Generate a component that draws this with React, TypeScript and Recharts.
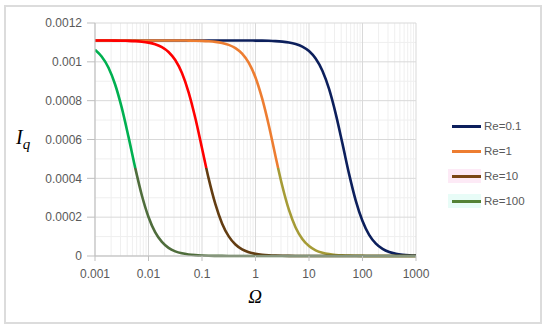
import { CartesianGrid, Line, LineChart, XAxis, YAxis } from "recharts";

// Ω sample points, eighth-decade steps
const omega = [
  0.001, 0.00133, 0.00178, 0.00237, 0.00316, 0.00422, 0.00562, 0.0075, 0.01, 0.0133, 0.0178, 0.0237, 0.0316,
  0.0422, 0.0562, 0.075, 0.1, 0.133, 0.178, 0.237, 0.316, 0.422, 0.562, 0.75, 1, 1.33, 1.78, 2.37, 3.16, 4.22,
  5.62, 7.5, 10, 13.3, 17.8, 23.7, 31.6, 42.2, 56.2, 75, 100, 133, 178, 237, 316, 422, 562, 750, 1000
];

// Iq
const re01 = [
  1.11e-3, 1.11e-3, 1.11e-3, 1.11e-3, 1.11e-3, 1.11e-3, 1.11e-3, 1.11e-3, 1.11e-3, 1.11e-3, 1.11e-3, 1.11e-3,
  1.11e-3, 1.11e-3, 1.11e-3, 1.11e-3, 1.11e-3, 1.11e-3, 1.11e-3, 1.11e-3, 1.11e-3, 1.11e-3, 1.11e-3, 1.11e-3,
  1.1094e-3, 1.109e-3, 1.1082e-3, 1.1068e-3, 1.1043e-3, 1.1e-3, 1.0922e-3, 1.0787e-3, 1.0555e-3, 1.0167e-3,
  0.9542e-3, 0.8602e-3, 0.732e-3, 0.5786e-3, 0.4216e-3, 0.2843e-3, 0.1801e-3, 0.109e-3, 0.064e-3, 0.037e-3,
  0.0211e-3, 0.012e-3, 0.0068e-3, 0.0038e-3, 0.0022e-3
];
const re1 = [
  1.11e-3, 1.11e-3, 1.11e-3, 1.11e-3, 1.11e-3, 1.11e-3, 1.11e-3, 1.11e-3, 1.11e-3, 1.11e-3, 1.11e-3, 1.11e-3,
  1.11e-3, 1.11e-3, 1.1093e-3, 1.1087e-3, 1.1077e-3, 1.1059e-3, 1.1028e-3, 1.0972e-3, 1.0875e-3, 1.0706e-3,
  1.0418e-3, 0.9943e-3, 0.9196e-3, 0.8113e-3, 0.6709e-3, 0.5129e-3, 0.3616e-3, 0.2371e-3, 0.1471e-3, 0.0878e-3,
  0.0512e-3, 0.0294e-3, 0.0167e-3, 0.0095e-3, 0.0053e-3, 0.003e-3, 0.0017e-3, 0.001e-3, 0.0005e-3, 0.0003e-3,
  0.0002e-3, 0.0001e-3, 0.00005e-3, 0, 0, 0, 0
];
const re10 = [
  1.11e-3, 1.1098e-3, 1.1096e-3, 1.1094e-3, 1.1089e-3, 1.108e-3, 1.1065e-3, 1.1038e-3, 1.099e-3, 1.0906e-3,
  1.076e-3, 1.0509e-3, 1.0091e-3, 0.9424e-3, 0.8433e-3, 0.7105e-3, 0.555e-3, 0.3996e-3, 0.2667e-3, 0.1676e-3,
  0.1009e-3, 0.0591e-3, 0.034e-3, 0.0194e-3, 0.011e-3, 0.0062e-3, 0.0035e-3, 0.002e-3, 0.0011e-3, 0.0006e-3,
  0.00035e-3, 0.0002e-3, 0.0001e-3, 0.00006e-3, 0.00003e-3, 0, 0, 0, 0, 0, 0, 0, 0, 0, 0, 0, 0, 0, 0
];
const re100 = [
  1.062e-3, 1.0273e-3, 0.971e-3, 0.8847e-3, 0.764e-3, 0.6148e-3, 0.4564e-3, 0.3129e-3, 0.2008e-3, 0.1226e-3,
  0.0725e-3, 0.0419e-3, 0.024e-3, 0.0136e-3, 0.0077e-3, 0.0043e-3, 0.0025e-3, 0.0014e-3, 0.0008e-3, 0.0004e-3,
  0.00025e-3, 0.00014e-3, 0.00008e-3, 0.00004e-3, 0.00002e-3, 0, 0, 0, 0, 0, 0, 0, 0, 0, 0, 0, 0, 0, 0, 0, 0, 0,
  0, 0, 0, 0, 0, 0, 0
];

const xTicks = [0.001, 0.01, 0.1, 1, 10, 100, 1000];
const yTicks = [0, 0.0002, 0.0004, 0.0006, 0.0008, 0.001, 0.0012];
const yMinor = [0.0001, 0.0003, 0.0005, 0.0007, 0.0009, 0.0011];
const xMinor = xTicks.slice(0, -1).flatMap((d) => [2, 3, 4, 5, 6, 7, 8, 9].map((m) => d * m));

// the lower part of three curves is drawn in a darker tone
const colourSplit = 0.000452;

const series = [
  { key: "re01", name: "Re=0.1", top: "#0c1f5c", bottom: "#0c1f5c", legend: "#0c1f5c" },
  { key: "re1", name: "Re=1", top: "#ed7d31", bottom: "#a59b36", legend: "#ed7d31" },
  { key: "re10", name: "Re=10", top: "#ff0000", bottom: "#633d12", legend: "#7a4614" },
  { key: "re100", name: "Re=100", top: "#00b050", bottom: "#4f6d3c", legend: "#548235" }
];

const data = omega.map((o, i) => ({ omega: o, re01: re01[i], re1: re1[i], re10: re10[i], re100: re100[i] }));

const W = 550;
const H = 328;
const PLOT_TOP = 23;
const PLOT_H = 233;
const Y_MAX = 0.0012;
const splitY = PLOT_TOP + PLOT_H * (1 - colourSplit / Y_MAX);

const tickStyle = { fill: "#595959", fontSize: 12, fontFamily: "Liberation Sans, Arial, sans-serif" };

export default function App() {
  return (
    <div style={{ position: "absolute", left: 0, top: 0, width: W, height: H, background: "#fff" }}>
      <div
        style={{
          position: "absolute",
          left: 4,
          top: 5,
          width: 538,
          height: 319,
          boxSizing: "border-box",
          border: "2px solid #dcdcdc"
        }}
      />
      <LineChart
        width={W}
        height={H}
        data={data}
        margin={{ top: PLOT_TOP, right: 134, bottom: 42, left: 0 }}
        style={{ position: "absolute", left: 0, top: 0 }}
      >
        <defs>
          {series.map((s) => (
            <linearGradient key={s.key} id={`grad-${s.key}`} gradientUnits="userSpaceOnUse" x1="0" x2="0" y1="0" y2={H}>
              <stop offset={splitY / H} stopColor={s.top} />
              <stop offset={splitY / H} stopColor={s.bottom} />
            </linearGradient>
          ))}
        </defs>
        <CartesianGrid stroke="#efefef" verticalValues={xMinor} horizontalValues={yMinor} />
        <CartesianGrid stroke="#d9d9d9" verticalValues={xTicks} horizontalValues={yTicks} />
        <XAxis
          dataKey="omega"
          type="number"
          scale="log"
          domain={[0.001, 1000]}
          ticks={xTicks}
          interval={0}
          allowDataOverflow
          height={30}
          tickSize={5}
          tickMargin={8}
          stroke="#bfbfbf"
          tick={tickStyle}
          tickFormatter={(v) => String(v)}
        />
        <YAxis
          type="number"
          domain={[0, Y_MAX]}
          ticks={yTicks}
          interval={0}
          width={95}
          tickSize={8}
          tickMargin={5}
          stroke="#bfbfbf"
          tick={tickStyle}
          tickFormatter={(v) => String(v)}
        />
        {series.map((s) => (
          <Line
            key={s.key}
            type="monotone"
            dataKey={s.key}
            name={s.name}
            stroke={`url(#grad-${s.key})`}
            strokeWidth={2.6}
            dot={false}
            activeDot={false}
            isAnimationActive={false}
          />
        ))}
      </LineChart>

      <div
        style={{
          position: "absolute",
          left: 16,
          top: 126,
          fontFamily: "Liberation Serif, serif",
          fontStyle: "italic",
          fontSize: 20,
          color: "#000"
        }}
      >
        I<sub style={{ fontSize: 15, verticalAlign: "-5px" }}>q</sub>
      </div>
      <div
        style={{
          position: "absolute",
          left: 235,
          top: 286,
          width: 40,
          textAlign: "center",
          fontFamily: "Liberation Serif, serif",
          fontStyle: "italic",
          fontSize: 19,
          color: "#000"
        }}
      >
        Ω
      </div>

      {series.map((s, i) => (
        <div
          key={s.key}
          style={{
            position: "absolute",
            left: 448,
            top: 118 + i * 25,
            height: 16,
            display: "flex",
            alignItems: "center",
            fontFamily: "Liberation Sans, Arial, sans-serif",
            fontSize: 11.5,
            color: "#595959"
          }}
        >
          <span
            style={{
              display: "inline-block",
              width: 33,
              height: 14,
              position: "relative",
              background: i === 2 ? "#fdeaf6" : i === 3 ? "#e8fcf7" : "transparent"
            }}
          >
            <span
              style={{
                position: "absolute",
                left: 4,
                right: 0,
                top: 6,
                height: 3,
                background: s.legend
              }}
            />
          </span>
          <span style={{ marginLeft: 3 }}>{s.name}</span>
        </div>
      ))}
    </div>
  );
}
